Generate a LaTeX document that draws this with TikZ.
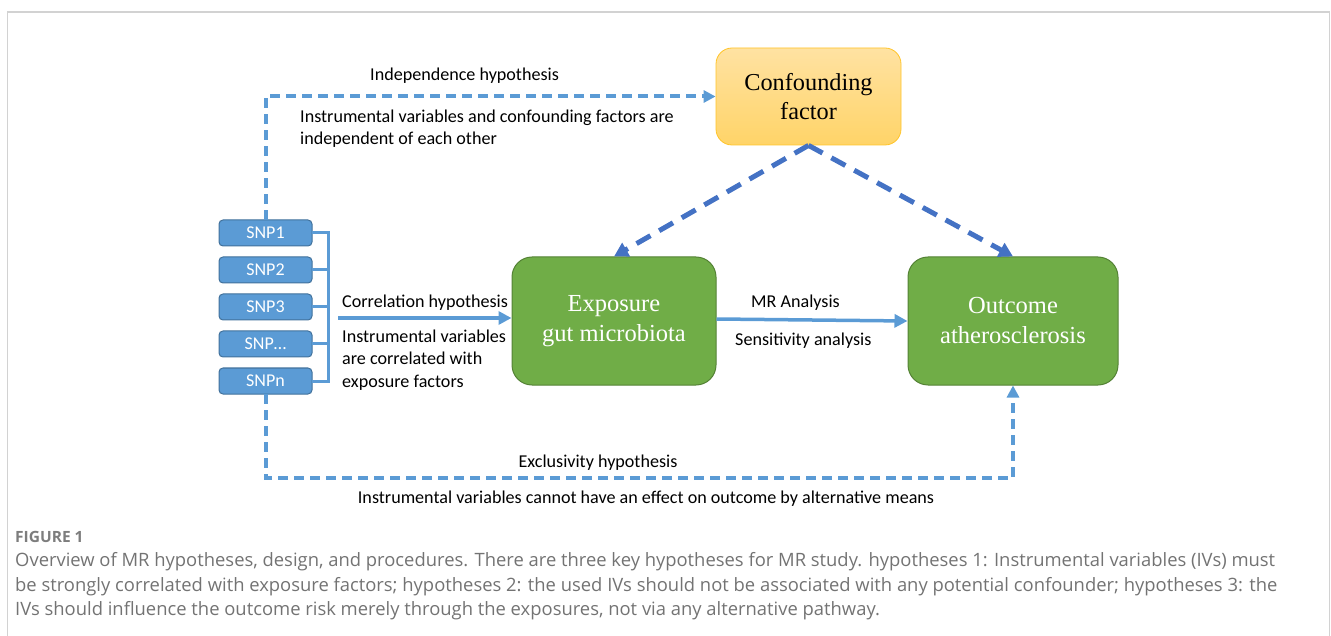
\documentclass[tikz,border=0pt]{standalone}
\usepackage{fontspec}
\usepackage{xcolor}
\usepackage{tikz}
\usetikzlibrary{arrows.meta,positioning}
\setmainfont{Liberation Serif}
\newfontfamily\calibri{Carlito}
\newfontfamily\capsans{Open Sans}
\definecolor{snpblue}{RGB}{91, 155, 213}
\definecolor{snpedge}{RGB}{65, 113, 156}
\definecolor{darkblue}{RGB}{68, 114, 196}
\definecolor{leafgreen}{RGB}{112, 173, 71}
\definecolor{leafedge}{RGB}{84, 130, 53}
\definecolor{paleorange}{RGB}{255, 226, 162}
\definecolor{goldorange}{RGB}{255, 212, 104}
\definecolor{goldedge}{RGB}{255, 196, 40}
\definecolor{framegray}{RGB}{210, 210, 210}
\definecolor{figgray}{RGB}{125, 125, 125}
\definecolor{captiongray}{RGB}{115, 115, 115}
\tikzset{
 snpbox/.style={
 rectangle,
 rounded corners=4pt,
 draw=snpedge,
 fill=snpblue,
 line width=1pt,
 outer sep=0pt,
 inner sep=0pt,
 minimum width=93pt,
 minimum height=26pt,
 text=white,
 font=\calibri\fontsize{18}{20}\selectfont
 },
 greenbox/.style={
 rectangle,
 rounded corners=20pt,
 draw=leafedge,
 fill=leafgreen,
 line width=1pt,
 align=center,
 minimum height=128pt,
 text=white,
 font=\fontsize{24.5}{30}\selectfont
 },
 confbox/.style={
 rectangle,
 rounded corners=16pt,
 draw=goldedge,
 top color=paleorange,
 bottom color=goldorange,
 line width=0.8pt,
 align=center,
 minimum width=185pt,
 minimum height=97pt,
 font=\fontsize{24.3}{29}\selectfont
 },
 hyplabel/.style={
 inner sep=0pt,
 align=left,
 font=\calibri\fontsize{18.1}{22}\selectfont
 },
 bracket/.style={line width=3pt, draw=snpblue},
 solidarrow/.style={-{Triangle[length=13pt,width=13pt]}, line width=3.5pt, draw=snpblue},
 hypdash/.style={-{Triangle[length=12pt,width=12pt]}, line width=4pt, draw=snpblue, dash pattern=on 10pt off 6pt},
 confdash/.style={-{Triangle[length=14pt,width=15pt]}, line width=5pt, draw=darkblue, dash pattern=on 16pt off 10pt}
}

\begin{document}
\begin{tikzpicture}[x=1pt, y=-1pt, node distance=11pt]
 \useasboundingbox (0,0) rectangle (1331,636);
 \draw[framegray, line width=1.2pt] (7.5,640) -- (7.5,12) -- (1329.5,12) -- (1329.5,640);

 % main boxes
 \node[confbox] (conf) at (808.5,96.5) {Confounding\\factor};
 \node[greenbox, minimum width=204pt] (expo) at (614,321) {Exposure\\gut microbiota};
 \node[greenbox, minimum width=210pt] (outc) at (1013,321) {Outcome\\atherosclerosis};

 % instrumental variables
 \node[snpbox] (snp1) at (265.5,233) {SNP1};
 \node[snpbox, below=of snp1] (snp2) {SNP2};
 \node[snpbox, below=of snp2] (snp3) {SNP3};
 \node[snpbox, below=of snp3] (snp4) {SNP\ldots};
 \node[snpbox, below=of snp4] (snpn) {SNPn};
 \draw[bracket] (snp1.east) -| ([xshift=16pt]snpn.east) -- (snpn.east);
 \foreach \s in {snp2,snp3,snp4}
 \draw[bracket] (\s.east) -- ++(16,0);

 \coordinate (corrstart) at (338,318);
 \draw[solidarrow] (corrstart) -- (expo.west |- corrstart);
 \draw[solidarrow] ([yshift=2pt]expo.east) -- (outc.west);

 \draw[hypdash] (snp1.north) |- (conf.west);
 \draw[confdash] (conf.south) -- (expo.north);
 \draw[confdash] (conf.south) -- (outc.north);
 \draw[hypdash] (snpn.south) |- ([yshift=-92pt]outc.south) -- (outc.south);

 % hypothesis labels (base of a multi-line label is its last line)
 \node[hyplabel, anchor=base west] (indep) at (370,80.5) {Independence hypothesis};
 \node[hyplabel, anchor=base west] (indepnote) at (300,145) {Instrumental variables and confounding factors are\\independent of each other};
 \node[hyplabel, anchor=base west] (corr) at (342,308) {Correlation hypothesis};
 \node[hyplabel, anchor=base west] (corrnote) at (342,387) {Instrumental variables\\are correlated with\\exposure factors};
 \node[hyplabel, anchor=base west] (mr) at (751,308) {MR Analysis};
 \node[hyplabel, anchor=base west] (sens) at (735,346) {Sensitivity analysis};
 \node[hyplabel, anchor=base] (excl) at (598,467) {Exclusivity hypothesis};
 \node[hyplabel, anchor=base] (exclnote) at (646,503) {Instrumental variables cannot have an effect on outcome by alternative means};

 % caption
 \node[anchor=base west, inner sep=0pt, text=figgray, font=\capsans\bfseries\fontsize{15.5}{18}\selectfont] (fig) at (15,542.5) {FIGURE 1};
 \node[anchor=base west, inner sep=0pt, align=left, text=captiongray, font=\capsans\fontsize{18.4}{24.5}\selectfont] (cap) at (15,615.5) {Overview of MR hypotheses, design, and procedures. There are three key hypotheses for MR study. hypotheses 1: Instrumental variables (IVs) must\\be strongly correlated with exposure factors; hypotheses 2: the used IVs should not be associated with any potential confounder; hypotheses 3: the\\IVs should influence the outcome risk merely through the exposures, not via any alternative pathway.};
\end{tikzpicture}
\end{document}
